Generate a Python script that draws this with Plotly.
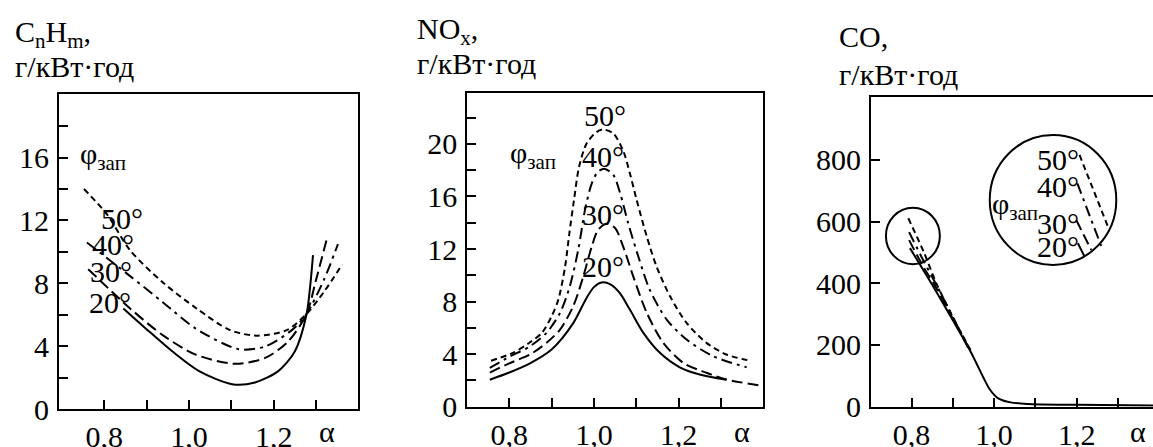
import plotly.graph_objects as go

# ---------------- data ----------------
# Panel 1: CnHm
hc20_x = [0.845, 0.899, 0.961, 1.024, 1.102, 1.156, 1.211, 1.25, 1.278, 1.287, 1.293]
hc20_y = [6.4, 5.1, 3.66, 2.41, 1.58, 1.69, 2.41, 3.66, 6.06, 8.0, 9.8]
hc30_x = [0.762, 0.861, 0.938, 1.016, 1.109, 1.18, 1.234, 1.278, 1.30, 1.325]
hc30_y = [8.9, 6.4, 4.7, 3.46, 2.88, 3.25, 4.29, 6.06, 8.2, 10.75]
hc40_x = [0.759, 0.861, 0.938, 1.016, 1.117, 1.18, 1.243, 1.278, 1.32, 1.352]
hc40_y = [10.6, 8.46, 6.8, 5.12, 3.81, 3.98, 5.02, 6.06, 8.3, 10.5]
hc50_x = [0.752, 0.806, 0.861, 0.939, 1.018, 1.097, 1.16, 1.231, 1.278, 1.32, 1.362]
hc50_y = [14.0, 12.4, 10.1, 8.04, 6.4, 5.02, 4.67, 5.02, 6.06, 7.5, 9.2]

# Panel 2: NOx
no20_x = [0.754, 0.8, 0.849, 0.9, 0.95, 0.983, 1.0, 1.018, 1.04, 1.061, 1.085, 1.117, 1.156, 1.203, 1.25, 1.313]
no20_y = [2.05, 2.6, 3.3, 4.35, 6.3, 8.3, 9.1, 9.46, 9.3, 8.66, 7.39, 5.62, 4.1, 3.0, 2.45, 2.05]
no30_x = [0.754, 0.8, 0.849, 0.888, 0.92, 0.951, 0.975, 0.995, 1.01, 1.03, 1.05, 1.069, 1.093, 1.125, 1.164, 1.211, 1.266, 1.313, 1.392]
no30_y = [2.6, 3.3, 3.97, 4.86, 5.87, 7.64, 9.92, 12.2, 13.46, 13.92, 13.6, 12.2, 9.92, 7.14, 4.86, 3.34, 2.58, 2.07, 1.62]
no40_x = [0.754, 0.8, 0.849, 0.888, 0.92, 0.943, 0.963, 0.979, 0.995, 1.01, 1.026, 1.046, 1.062, 1.081, 1.105, 1.132, 1.172, 1.219, 1.282, 1.361]
no40_y = [2.95, 3.8, 4.6, 5.62, 7.14, 9.16, 11.94, 14.98, 17.0, 17.9, 18.1, 17.64, 16.25, 13.97, 11.43, 8.9, 6.63, 5.11, 3.84, 3.0]
no50_x = [0.757, 0.809, 0.849, 0.877, 0.9, 0.916, 0.932, 0.942, 0.953, 0.965, 0.983, 1.006, 1.022,
          1.046, 1.069, 1.085, 1.101, 1.125, 1.148, 1.18, 1.219, 1.266, 1.313, 1.369]
no50_y = [3.5, 4.1, 4.9, 5.62, 6.88, 8.15, 10.68, 13.2, 15.74, 18.27, 20.05, 20.9, 21.1,
          20.8, 19.5, 17.77, 15.74, 12.95, 10.68, 8.4, 6.38, 4.86, 3.97, 3.5]

# Panel 3: CO
co20_x = [0.796, 0.85, 0.90, 0.94, 0.957, 0.973, 0.99, 1.01, 1.04, 1.08, 1.2, 1.385]
co20_y = [514, 395, 280, 186, 141, 97, 55, 27, 14, 9, 6, 4]
co30_x = [0.794, 0.83, 0.86, 0.90, 0.94]
co30_y = [540, 450, 385, 285, 184]
co40_x = [0.794, 0.83, 0.86, 0.90, 0.942]
co40_y = [566, 470, 395, 290, 182]
co50_x = [0.792, 0.83, 0.86, 0.90, 0.945]
co50_y = [611, 500, 400, 290, 178]

# magnified inset segments (CO panel)
ins20_x = [1.203, 1.2193]
ins20_y = [530, 486]
ins30_x = [1.199, 1.2355]
ins30_y = [605, 508]
ins40_x = [1.2017, 1.26]
ins40_y = [724, 519]
ins50_x = [1.207, 1.2757]
ins50_y = [816, 584]

small_circle = [0.7378, 0.8685, 462, 645]   # x0, x1, y0, y1
big_circle = [0.9894, 1.296, 459.5, 881]

angles = ["20", "30", "40", "50"]

x_ticks = [0.8, 0.9, 1.0, 1.1, 1.2, 1.3]
x_ticktext = ["0,8", "", "1,0", "", "1,2", ""]
hc_ticks = [0, 2, 4, 6, 8, 10, 12, 14, 16, 18]
hc_ticktext = ["0", "", "4", "", "8", "", "12", "", "16", ""]
no_ticks = [0, 2, 4, 6, 8, 10, 12, 14, 16, 18, 20, 22]
no_ticktext = ["0", "", "4", "", "8", "", "12", "", "16", "", "20", ""]
co_ticks = [0, 200, 400, 600, 800]
co_ticktext = ["0", "200", "400", "600", "800"]

# ---------------- styles ----------------
FONT = "Liberation Serif"
dashes = {"20": "solid", "30": "11px,5px", "40": "11px,5px,3px,5px", "50": "6px,4px"}

fig = go.Figure()

def add(xs, ys, ang, xa, ya, shape="spline"):
    fig.add_trace(go.Scatter(x=xs, y=ys, mode="lines", xaxis=xa, yaxis=ya,
                             line=dict(color="black", width=2, dash=dashes[ang], shape=shape,
                                       smoothing=0.8),
                             showlegend=False, hoverinfo="skip"))

for a, xs, ys in zip(angles, [hc20_x, hc30_x, hc40_x, hc50_x], [hc20_y, hc30_y, hc40_y, hc50_y]):
    add(xs, ys, a, "x", "y")
for a, xs, ys in zip(angles, [no20_x, no30_x, no40_x, no50_x], [no20_y, no30_y, no40_y, no50_y]):
    add(xs, ys, a, "x2", "y2")
for a, xs, ys in zip(angles, [co20_x, co30_x, co40_x, co50_x], [co20_y, co30_y, co40_y, co50_y]):
    add(xs, ys, a, "x3", "y3")
for a, xs, ys in zip(angles, [ins20_x, ins30_x, ins40_x, ins50_x], [ins20_y, ins30_y, ins40_y, ins50_y]):
    add(xs, ys, a, "x3", "y3", shape="linear")

axis_common = dict(showline=True, linecolor="black", linewidth=2, ticks="inside",
                   ticklen=9, tickwidth=2, tickcolor="black", showgrid=False, zeroline=False,
                   automargin=False,
                   tickfont=dict(family=FONT, size=30, color="black"))
xax = dict(ticklabelstandoff=0, **axis_common)
yax = dict(ticklabelstandoff=2, **axis_common)

fig.update_layout(
    template="none",
    width=1153, height=447,
    margin=dict(l=0, r=0, t=0, b=0),
    paper_bgcolor="white", plot_bgcolor="white",
    xaxis=dict(domain=[0.05117, 0.31049], range=[0.693, 1.3993], anchor="y", mirror=True,
               tickvals=x_ticks, ticktext=x_ticktext, **xax),
    yaxis=dict(domain=[0.085, 0.7897], range=[0, 20.05], anchor="x", mirror=True,
               tickvals=hc_ticks, ticktext=hc_ticktext, **yax),
    xaxis2=dict(domain=[0.4053, 0.6615], range=[0.7008, 1.399], anchor="y2", mirror=True,
                tickvals=x_ticks, ticktext=x_ticktext, **xax),
    yaxis2=dict(domain=[0.0902, 0.7926], range=[0, 23.9], anchor="x2", mirror=True,
                tickvals=no_ticks, ticktext=no_ticktext, **yax),
    xaxis3=dict(domain=[0.7554, 1.0], range=[0.7016, 1.385], anchor="y3", mirror=True,
                tickvals=x_ticks, ticktext=x_ticktext, **xax),
    yaxis3=dict(domain=[0.0902, 0.7837], range=[0, 1005], anchor="x3", mirror=False,
                tickvals=co_ticks, ticktext=co_ticktext, **yax),
)

for c in (small_circle, big_circle):
    fig.add_shape(type="circle", xref="x3", yref="y3", x0=c[0], x1=c[1], y0=c[2], y1=c[3],
                  line=dict(color="black", width=2))

def ann(text, x, y, xref="paper", yref="paper", xanchor="center", yanchor="middle", size=30):
    fig.add_annotation(text=text, x=x, y=y, xref=xref, yref=yref, xanchor=xanchor,
                       yanchor=yanchor, showarrow=False,
                       font=dict(family=FONT, size=size, color="black"))

PHI = "φ<sub>зап</sub>"
deg = lambda a: a + "°"

# panel 1 labels
ann(PHI, 0.797, 16.1, "x", "y")
for a, xx, yy in zip(["50", "40", "30", "20"], [0.841, 0.821, 0.817, 0.813], [12.1, 10.44, 8.77, 6.79]):
    ann(deg(a), xx, yy, "x", "y")
# panel 2 labels
ann(PHI, 0.857, 19.16, "x2", "y2")
for a, xx, yy in zip(["50", "40", "30", "20"], [1.026, 1.022, 1.022, 1.022], [22.2, 19.03, 14.6, 10.68]):
    ann(deg(a), xx, yy, "x2", "y2")
# panel 3 labels
ann(PHI, 1.05, 649, "x3", "y3")
for a, xx, yy in zip(["50", "40", "30", "20"], [1.1547] * 4, [800, 713, 595, 519]):
    ann(deg(a), xx, yy, "x3", "y3")

# alpha labels
for px in (327, 742, 1138):
    ann("α", px / 1153, 1 - 431 / 447)

# titles
ann("C<sub>n</sub>H<sub>m</sub>,", 13 / 1153, 1 - 34 / 447, xanchor="left")
ann("г/кВт·год", 13 / 1153, 1 - 66 / 447, xanchor="left")
ann("NO<sub>x</sub>,", 415 / 1153, 1 - 31 / 447, xanchor="left")
ann("г/кВт·год", 415 / 1153, 1 - 64 / 447, xanchor="left")
ann("CO,", 837 / 1153, 1 - 36 / 447, xanchor="left")
ann("г/кВт·год", 837 / 1153, 1 - 74 / 447, xanchor="left")

fig.write_html("out.html", config={"displayModeBar": False},
               post_script="document.body.style.margin='0';document.body.style.overflow='hidden';")
